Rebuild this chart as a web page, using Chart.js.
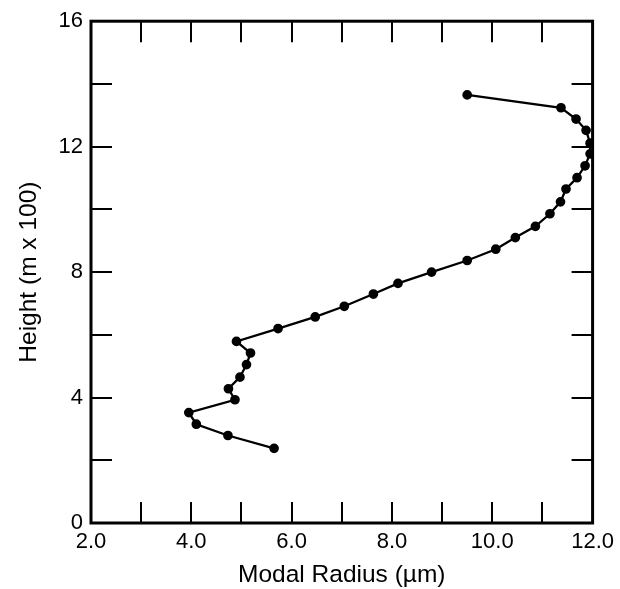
<!DOCTYPE html>
<html>
<head>
<meta charset="utf-8">
<script src="https://cdn.jsdelivr.net/npm/chart.js@4.4.1/dist/chart.umd.min.js"></script>
<style>
  html, body { margin: 0; padding: 0; background: #fff; }
  #wrap { width: 620px; height: 589px; }
</style>
</head>
<body>
<div id="wrap"><canvas id="chart" width="620" height="589"></canvas></div>
<script>
// 데이터
const radius = [5.65, 4.73, 4.10, 3.95, 4.87, 4.74, 4.97, 5.10, 5.18, 4.90,
                5.73, 6.47, 7.05, 7.63, 8.12, 8.79, 9.50, 10.07, 10.46, 10.86,
                11.15, 11.36, 11.47, 11.69, 11.85, 11.95, 11.95, 11.87, 11.67, 11.37, 9.50];
const height = [2.38, 2.79, 3.15, 3.52, 3.93, 4.28, 4.65, 5.05, 5.42, 5.79,
                6.20, 6.57, 6.91, 7.30, 7.64, 8.00, 8.37, 8.73, 9.10, 9.46,
                9.86, 10.24, 10.65, 11.01, 11.39, 11.77, 12.11, 12.52, 12.88, 13.24, 13.65];
const xLabels = ['2.0', '4.0', '6.0', '8.0', '10.0', '12.0'];
const yLabels = ['0', '4', '8', '12', '16'];

const points = radius.map((r, i) => ({ x: r, y: height[i] }));
const FONT = "'Liberation Sans', Arial, sans-serif";

// 안쪽 눈금 + 테두리
const frame = {
    id: 'frame',
    afterDraw(chart) {
        const ctx = chart.ctx;
        const a = chart.chartArea;
        const xs = chart.scales.x, ys = chart.scales.y;
        ctx.save();
        ctx.strokeStyle = '#000';
        ctx.lineWidth = 2;
        ctx.beginPath();
        xs.ticks.forEach(t => {
            const px = Math.round(xs.getPixelForValue(t.value));
            if (px <= a.left + 2 || px >= a.right - 2) return;
            ctx.moveTo(px, a.bottom); ctx.lineTo(px, a.bottom - 21);
            ctx.moveTo(px, a.top); ctx.lineTo(px, a.top + 21);
        });
        ys.ticks.forEach(t => {
            const py = Math.round(ys.getPixelForValue(t.value));
            if (py <= a.top + 2 || py >= a.bottom - 2) return;
            ctx.moveTo(a.left, py); ctx.lineTo(a.left + 21, py);
            ctx.moveTo(a.right, py); ctx.lineTo(a.right - 21, py);
        });
        ctx.stroke();
        ctx.lineWidth = 3;
        ctx.strokeRect(a.left, a.top, a.right - a.left, a.bottom - a.top);
        ctx.restore();
    }
};

function createChart() {
    const ctx = document.getElementById('chart').getContext('2d');
    new Chart(ctx, {
        type: 'scatter',
        data: {
            datasets: [{
                data: points,
                showLine: true,
                borderColor: '#000',
                backgroundColor: '#000',
                borderWidth: 2.3,
                pointRadius: 3.7,
                pointHoverRadius: 3.7,
                tension: 0
            }]
        },
        options: {
            responsive: false,
            animation: false,
            layout: { padding: { left: 0, right: 26, top: 21, bottom: 0 } },
            plugins: { legend: { display: false }, tooltip: { enabled: false } },
            scales: {
                x: {
                    type: 'linear', min: 2, max: 12,
                    grid: { drawOnChartArea: false, drawTicks: false, color: 'rgba(0,0,0,0)' },
                    border: { display: false },
                    afterFit(scale) { scale.height = 66; },
                    ticks: {
                        stepSize: 1, autoSkip: false, maxRotation: 0, padding: 6,
                        color: '#000',
                        font: { family: FONT, size: 22 },
                        callback: v => {
                            const s = Number(v).toFixed(1);
                            return xLabels.includes(s) ? s : '';
                        }
                    },
                    title: {
                        display: true, text: 'Modal Radius (\u00b5m)', color: '#000',
                        padding: { top: 0, bottom: 2 },
                        font: { family: FONT, size: 24.5, lineHeight: 1 }
                    }
                },
                y: {
                    type: 'linear', min: 0, max: 16,
                    grid: { drawOnChartArea: false, drawTicks: false, color: 'rgba(0,0,0,0)' },
                    border: { display: false },
                    afterFit(scale) { scale.width = 91; },
                    ticks: {
                        stepSize: 2, autoSkip: false, padding: 8,
                        color: '#000',
                        font: { family: FONT, size: 22 },
                        callback: v => yLabels.includes(String(v)) ? String(v) : ''
                    },
                    title: {
                        display: true, text: 'Height (m x 100)', color: '#000',
                        padding: { top: 15, bottom: 0 },
                        font: { family: FONT, size: 24.5 }
                    }
                }
            }
        },
        plugins: [frame]
    });
}

document.addEventListener('DOMContentLoaded', function() {
    createChart();
});
</script>
</body>
</html>
